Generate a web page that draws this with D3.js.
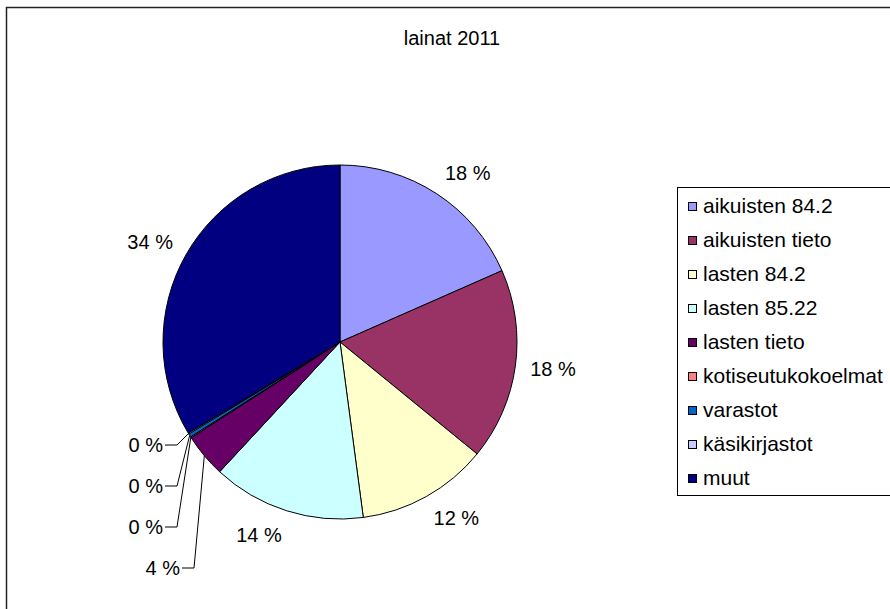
<!DOCTYPE html>
<html>
<head>
<meta charset="utf-8">
<script src="https://cdn.jsdelivr.net/npm/d3@7"></script>
<style>
  body { margin: 0; background: #fff; }
  text { font-family: "Liberation Sans", Arial, sans-serif; fill: #000; }
</style>
</head>
<body>
<div id="chart"></div>
<script>
// Chart data
var title = "lainat 2011";
var categories = ["aikuisten 84.2", "aikuisten tieto", "lasten 84.2", "lasten 85.22",
    "lasten tieto", "kotiseutukokoelmat", "varastot", "käsikirjastot", "muut"];
var shares = [18.4, 17.5, 12.0, 14.0, 4.0, 0.1, 0.3, 0.1, 33.6];
var colors = ["#9999FF", "#993366", "#FFFFCC", "#CCFFFF", "#660066",
    "#FF8080", "#0066CC", "#CCCCFF", "#000080"];

(function() {
    var width = 890, height = 609;
    var cx = 340, cy = 342, radius = 177;

    var svg = d3.select("#chart").append("svg")
        .attr("width", width)
        .attr("height", height);

    // Outer chart frame (right and bottom run off the page)
    svg.append("rect")
        .attr("x", 6.5).attr("y", 7.5)
        .attr("width", 1000).attr("height", 1000)
        .attr("fill", "none")
        .attr("stroke", "#222")
        .attr("stroke-width", 1.5);

    // Title
    svg.append("text")
        .attr("x", 452).attr("y", 45)
        .attr("text-anchor", "middle")
        .style("font-size", "20px")
        .text(title);

    var data = categories.map(function(c, i) {
        return { name: c, value: shares[i], color: colors[i] };
    });

    var pie = d3.pie().sort(null).value(function(d) { return d.value; });
    var arcs = pie(data);

    var arc = d3.arc().innerRadius(0).outerRadius(radius);
    var edgeArc = d3.arc().innerRadius(radius).outerRadius(radius);

    var g = svg.append("g")
        .attr("transform", "translate(" + cx + "," + cy + ")");

    g.selectAll(".slice")
        .data(arcs)
        .enter().append("path")
        .attr("class", "slice")
        .attr("d", arc)
        .attr("fill", function(d) { return d.data.color; })
        .attr("stroke", "#000")
        .attr("stroke-width", 1)
        .attr("stroke-linejoin", "round");

    // Big slices: label box pushed outward from the mid angle
    var labelR = 192, labelH = 20;
    var big = arcs.filter(function(d) { return d.data.value >= 5; });
    g.selectAll(".big-label")
        .data(big)
        .enter().append("text")
        .attr("class", "big-label")
        .attr("text-anchor", "middle")
        .attr("dy", "0.35em")
        .style("font-size", "20px")
        .text(function(d) { return Math.round(d.data.value) + " %"; })
        .each(function(d) {
            var a = (d.startAngle + d.endAngle) / 2;
            var w = this.getComputedTextLength();
            var x = labelR * Math.sin(a) + (Math.sin(a) >= 0 ? 1 : -1) * w / 2;
            var y = -(labelR + labelH / 2) * Math.cos(a);
            d3.select(this).attr("x", x).attr("y", y);
        });

    // Small slices: stacked labels with leader lines, nearest to "muut" on top
    var small = arcs.filter(function(d) { return d.data.value < 5; }).reverse();
    small.forEach(function(d, i) {
        var ly = 103 + i * 41;
        var lx = d.data.value >= 1 ? -159 : -176;
        var edge = edgeArc.centroid(d);
        g.append("path")
            .attr("d", "M" + (lx + 1) + "," + ly + "H" + (lx + 13) + "L" + edge[0] + "," + edge[1])
            .attr("fill", "none")
            .attr("stroke", "#000")
            .attr("stroke-width", 1);
        g.append("text")
            .attr("x", lx - 1).attr("y", ly)
            .attr("text-anchor", "end")
            .attr("dy", "0.35em")
            .style("font-size", "20px")
            .text(Math.round(d.data.value) + " %");
    });

    // Legend
    var legend = svg.append("g");
    legend.append("rect")
        .attr("x", 677.5).attr("y", 187.5)
        .attr("width", 400).attr("height", 308)
        .attr("fill", "#fff")
        .attr("stroke", "#000")
        .attr("stroke-width", 1);

    var item = legend.selectAll(".item")
        .data(data)
        .enter().append("g")
        .attr("class", "item")
        .attr("transform", function(d, i) { return "translate(688," + (206 + i * 34) + ")"; });

    item.append("rect")
        .attr("x", 0.5).attr("y", -3.5)
        .attr("width", 8).attr("height", 8)
        .attr("fill", function(d) { return d.color; })
        .attr("stroke", "#000")
        .attr("stroke-width", 1);

    item.append("text")
        .attr("x", 15).attr("dy", "0.35em")
        .style("font-size", "21px")
        .text(function(d) { return d.name; });
}());
</script>
</body>
</html>
